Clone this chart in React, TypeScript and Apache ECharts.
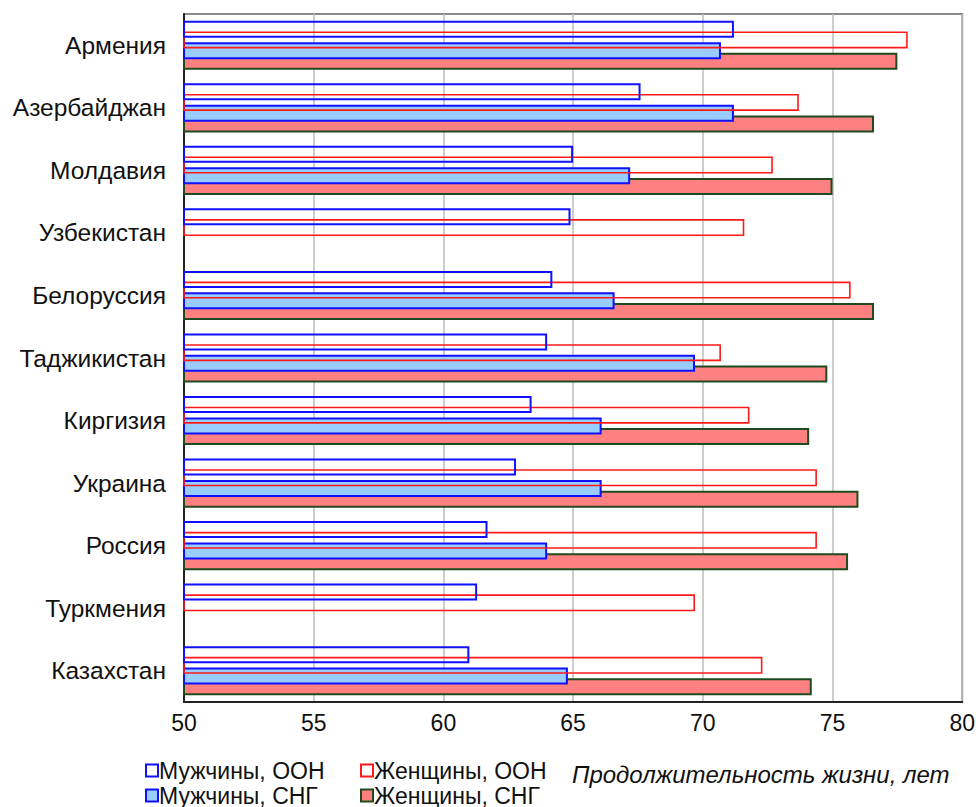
import React, { useEffect, useRef } from "react";
import * as echarts from "echarts";

const categories = [
  "Армения",
  "Азербайджан",
  "Молдавия",
  "Узбекистан",
  "Белоруссия",
  "Таджикистан",
  "Киргизия",
  "Украина",
  "Россия",
  "Туркмения",
  "Казахстан",
];

const menUN = [71.2, 67.6, 65.0, 64.9, 64.2, 64.0, 63.4, 62.8, 61.7, 61.3, 61.0];
const womenUN = [77.9, 73.7, 72.7, 71.6, 75.7, 70.7, 71.8, 74.4, 74.4, 69.7, 72.3];
const menCIS: (number | null)[] = [70.7, 71.2, 67.2, null, 66.6, 69.7, 66.1, 66.1, 64.0, null, 64.8];
const womenCIS: (number | null)[] = [77.5, 76.6, 75.0, null, 76.6, 74.8, 74.1, 76.0, 75.6, null, 74.2];

const seriesNames = ["Мужчины, ООН", "Женщины, ООН", "Мужчины, СНГ", "Женщины, СНГ"];

const xTicks = { min: 50, max: 80, interval: 5 };

const FONT = "'Liberation Sans', Arial, sans-serif";

export default function App() {
  const ref = useRef<HTMLDivElement>(null);
  useEffect(() => {
    if (!ref.current) return;
    const chart = echarts.init(ref.current, undefined, { renderer: "svg" });
    const barCommon = {
      type: "bar" as const,
      barWidth: 17,
      barGap: "-37%",
    };
    const legendPos = [
      { left: 145, top: 759 },
      { left: 360, top: 759 },
      { left: 145, top: 784 },
      { left: 360, top: 784 },
    ];
    chart.setOption({
      animation: false,
      backgroundColor: "#ffffff",
      grid: {
        left: 184,
        right: 15,
        top: 14,
        bottom: 105,
        show: true,
        borderColor: "#8a8a8a",
        borderWidth: 2,
        containLabel: false,
      },
      xAxis: {
        type: "value",
        min: xTicks.min,
        max: xTicks.max,
        interval: xTicks.interval,
        axisLine: { show: true, onZero: false, lineStyle: { color: "#222", width: 2 } },
        axisTick: { show: false },
        splitLine: { show: true, lineStyle: { color: "#bdbdbd", width: 1.5 } },
        axisLabel: { color: "#111", fontSize: 23, fontFamily: FONT, margin: 9 },
      },
      yAxis: {
        type: "category",
        data: categories,
        inverse: true,
        axisLine: { show: true, lineStyle: { color: "#222", width: 2 } },
        axisTick: { show: false },
        axisLabel: { color: "#111", fontSize: 24.5, fontFamily: FONT, margin: 18 },
      },
      legend: seriesNames.map((n, i) => ({
        left: legendPos[i].left,
        top: legendPos[i].top,
        itemWidth: 12,
        itemHeight: 12,
        padding: 0,
        icon: "rect",
        data: [n],
        textStyle: { fontSize: 23, fontFamily: FONT, color: "#111", padding: [0, 0, 0, -4] },
      })),
      graphic: [
        {
          type: "text",
          left: 572,
          top: 762,
          style: {
            text: "Продолжительность жизни, лет",
            fontSize: 24,
            fontStyle: "italic",
            fontFamily: FONT,
            fill: "#111",
          },
        },
      ],
      series: [
        {
          ...barCommon,
          name: seriesNames[0],
          data: menUN,
          z: 4,
          itemStyle: { color: "rgba(255,255,255,0)", borderColor: "#1010ff", borderWidth: 2 },
        },
        {
          ...barCommon,
          name: seriesNames[1],
          data: womenUN,
          z: 3,
          itemStyle: { color: "rgba(255,255,255,0)", borderColor: "#ff1a1a", borderWidth: 1.6 },
        },
        {
          ...barCommon,
          name: seriesNames[2],
          data: menCIS,
          z: 2,
          itemStyle: { color: "#99ccff", borderColor: "#1010ff", borderWidth: 2 },
        },
        {
          ...barCommon,
          name: seriesNames[3],
          data: womenCIS,
          z: 1,
          itemStyle: { color: "#ff8080", borderColor: "#1f4a1f", borderWidth: 2 },
        },
      ],
    });
    return () => chart.dispose();
  }, []);
  return (
    <div
      ref={ref}
      style={{ position: "fixed", left: 0, top: 0, width: 978, height: 807 }}
    />
  );
}
